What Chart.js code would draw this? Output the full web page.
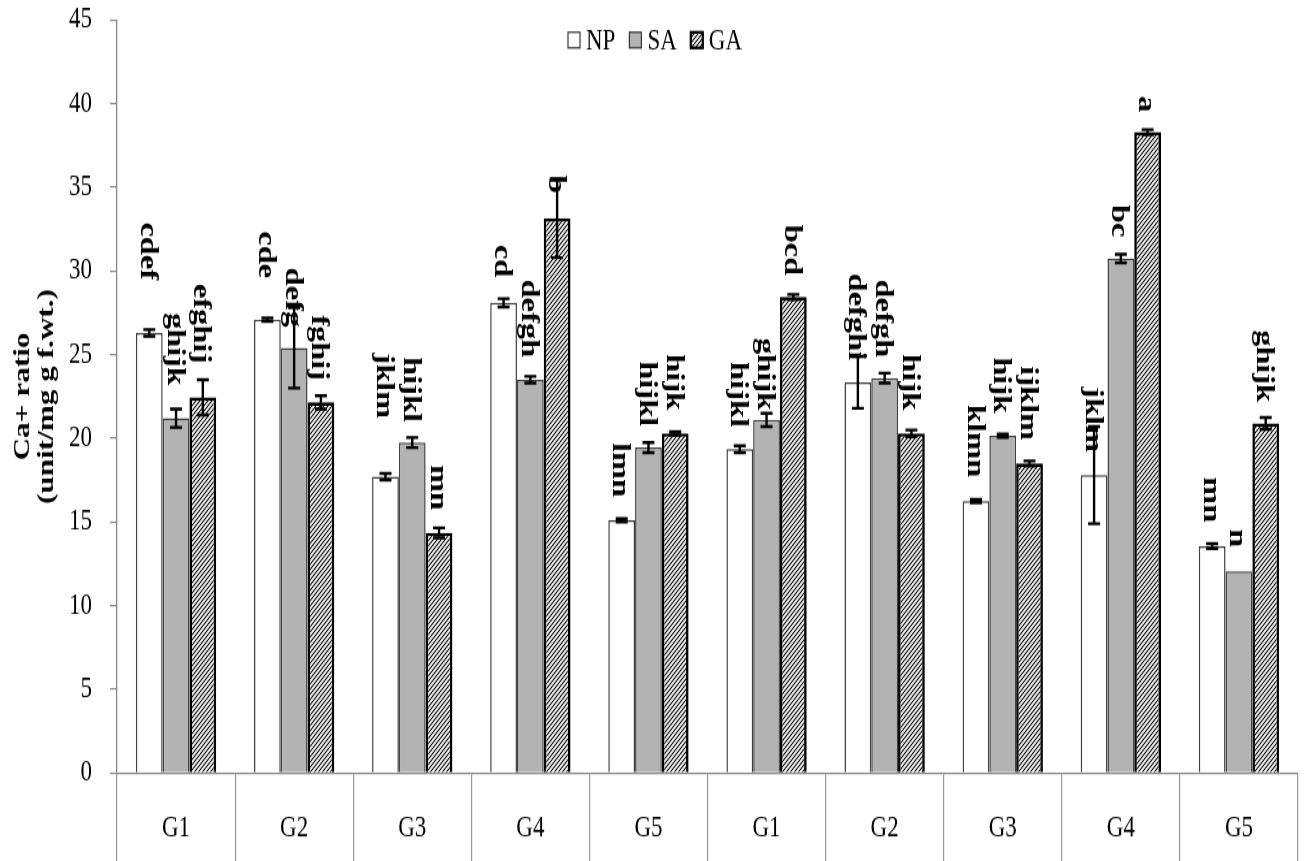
<!DOCTYPE html>
<html>
<head>
<meta charset="utf-8">
<script src="https://cdn.jsdelivr.net/npm/chart.js@4.4.0/dist/chart.umd.min.js"></script>
<style>
html,body{margin:0;padding:0;background:#fff}
body{width:1304px;height:861px;overflow:visible}
/* the original picture is stretched vertically, so we draw short and stretch */
#chart{display:block;width:1304px;height:662px;transform:scaleY(1.3006);transform-origin:0 0}
</style>
</head>
<body>
<canvas id="chart" width="1304" height="662"></canvas>
<script>
// Data
const categories = ['G1','G2','G3','G4','G5','G1','G2','G3','G4','G5'];
const yTicks = [0,5,10,15,20,25,30,35,40,45];

const npValues = [26.3, 27.1, 17.7, 28.1, 15.1, 19.35, 23.35, 16.25, 17.8, 13.55];
const npErrors = [0.2, 0.1, 0.2, 0.25, 0.1, 0.2, 1.55, 0.1, 2.9, 0.15];
const npLetters = ['cdef','cde','jklm','cd','lmn','hijkl','defghi','klmn','jklm','mn'];
const npLift = [2.95, 2.37, 3.3, 1.28, 1.29, 1.12, -0.23, 1.33, -1.52, 1.28];

const saValues = [21.2, 25.4, 19.75, 23.5, 19.45, 21.1, 23.6, 20.15, 30.75, 12.05];
const saErrors = [0.55, 2.4, 0.3, 0.2, 0.3, 0.4, 0.3, 0.1, 0.25, 0];
const saLetters = ['ghijk','defg','hijkl','defgh','hijkl','ghijk','defgh','hijk','bc','n'];
const saLift = [1.43, -1.16, 0.92, 1.15, 0.97, 0.18, 0.95, 1.25, 1.02, 1.45];

const gaValues = [22.45, 22.15, 14.35, 33.15, 20.3, 28.45, 20.3, 18.5, 38.3, 20.9];
const gaErrors = [1.05, 0.4, 0.3, 2.35, 0.1, 0.15, 0.2, 0.15, 0.15, 0.35];
const gaLetters = ['efghij','fghij','mn','b','hijk','bcd','hijk','ijklm','a','ghijk'];
const gaLift = [0.99, 0.93, 1.06, -0.85, 1.28, 1.15, 1.18, 1.24, 1.04, 0.91];

const errorSets = [npErrors, saErrors, gaErrors];
const letterSets = [npLetters, saLetters, gaLetters];
const liftSets = [npLift, saLift, gaLift];

const SERIF = '"Liberation Serif", "Times New Roman", serif';
Chart.defaults.font.family = SERIF;
Chart.defaults.color = '#000';

const canvas = document.getElementById('chart');
const mainCtx = canvas.getContext('2d');

// diagonal hatch for GA
function makeHatch(){
  const c = document.createElement('canvas');
  c.width = 4; c.height = 4;
  const g = c.getContext('2d');
  g.fillStyle = '#fff'; g.fillRect(0,0,4,4);
  g.strokeStyle = '#000'; g.lineWidth = 1.1;
  g.beginPath();
  g.moveTo(0,4); g.lineTo(4,0);
  g.moveTo(-1,1); g.lineTo(1,-1);
  g.moveTo(3,5); g.lineTo(5,3);
  g.stroke();
  return mainCtx.createPattern(c,'repeat');
}
const hatch = makeHatch();

// error bars + letters
const barExtras = {
  id:'barExtras',
  afterDatasetsDraw(chart){
    const ctx = chart.ctx, y = chart.scales.y;
    chart.data.datasets.forEach((ds, di)=>{
      const meta = chart.getDatasetMeta(di);
      meta.data.forEach((bar, i)=>{
        const v = ds.data[i], e = errorSets[di][i];
        ctx.save();
        if (e){
          const top = y.getPixelForValue(v+e), bot = y.getPixelForValue(v-e);
          ctx.strokeStyle = '#000'; ctx.lineWidth = 2.4;
          ctx.beginPath();
          ctx.moveTo(bar.x, top); ctx.lineTo(bar.x, bot);
          ctx.moveTo(bar.x-6, top); ctx.lineTo(bar.x+6, top);
          ctx.moveTo(bar.x-6, bot); ctx.lineTo(bar.x+6, bot);
          ctx.stroke();
        }
        const ly = y.getPixelForValue(v + e + liftSets[di][i]);
        ctx.translate(bar.x-2, ly);
        ctx.rotate(Math.PI/2);
        ctx.font = 'bold 25px '+SERIF;
        ctx.fillStyle = '#000';
        ctx.textAlign = 'right'; ctx.textBaseline = 'middle';
        ctx.fillText(letterSets[di][i], 0, 0);
        ctx.restore();
      });
    });
  }
};

// legend at the top
const topLegend = {
  id:'topLegend',
  afterDraw(chart){
    const ctx = chart.ctx;
    ctx.save();
    ctx.font = '23px '+SERIF;
    ctx.textBaseline = 'middle';
    let x = 568; const yc = 30.8;
    chart.data.datasets.forEach(ds=>{
      ctx.fillStyle = ds.backgroundColor;
      ctx.fillRect(x, yc-6, 12, 12);
      ctx.lineWidth = ds.label==='GA' ? 2.2 : 1.2;
      ctx.strokeStyle = ds.label==='GA' ? '#000' : '#333';
      ctx.strokeRect(x, yc-6, 12, 12);
      ctx.fillStyle = '#000';
      ctx.fillText(ds.label, x+18, yc+1);
      x += 18 + ctx.measureText(ds.label).width + 14;
    });
    ctx.restore();
  }
};

new Chart(canvas, {
  type:'bar',
  data:{
    labels: categories,
    datasets:[
      {label:'NP', data:npValues, backgroundColor:'#ffffff', borderColor:'#404040', borderWidth:1.5},
      {label:'SA', data:saValues, backgroundColor:'#b3b3b3', borderColor:'#404040', borderWidth:1.5},
      {label:'GA', data:gaValues, backgroundColor:hatch, borderColor:'#000000', borderWidth:2.6}
    ]
  },
  options:{
    responsive:false,
    animation:false,
    events:[],
    layout:{padding:{left:0, right:6, top:15.4, bottom:0}},
    datasets:{bar:{categoryPercentage:0.68, barPercentage:1.0}},
    plugins:{legend:{display:false}, tooltip:{enabled:false}},
    scales:{
      x:{
        offset:true,
        grid:{offset:true, drawOnChartArea:false, drawTicks:true, tickLength:68, color:'#9a9a9a', lineWidth:1.2},
        border:{display:true, color:'#888', width:1.3},
        ticks:{font:{size:23}, padding:-39.5, maxRotation:0, autoSkip:false},
        afterFit(s){ s.height = 67.7; s.paddingLeft = 0; s.paddingRight = 0; }
      },
      y:{
        min:0, max:45,
        afterBuildTicks(s){ s.ticks = yTicks.map(v=>({value:v})); },
        grid:{drawOnChartArea:false, drawTicks:true, tickLength:7, color:'#888', lineWidth:1.2},
        border:{display:true, color:'#888', width:1.3},
        ticks:{font:{size:23}, padding:18},
        title:{display:true, text:['Ca+ ratio','(unit/mg g f.wt.)'], font:{size:24, weight:'bold', lineHeight:1.0}, padding:{top:11, bottom:0}},
        afterFit(s){ s.width = 117; s.paddingTop = 8; s.paddingBottom = 8; }
      }
    }
  },
  plugins:[barExtras, topLegend]
});
</script>
</body>
</html>
